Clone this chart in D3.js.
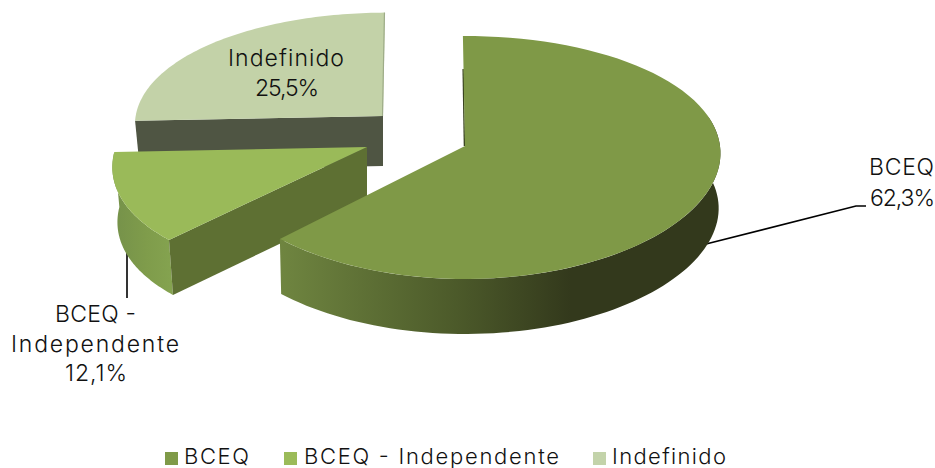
<!DOCTYPE html>
<html><head><meta charset="utf-8">
<script src="https://cdn.jsdelivr.net/npm/d3@7"></script>
<style>html,body{margin:0;background:#fff}svg{display:block}text{font-family:Inter,Lato,"Open Sans",sans-serif;font-weight:300;fill:#111;font-size:23px}text.lg{font-size:22px}</style>
</head><body><svg id="c" width="935" height="468"></svg>
<script>
const categories = ["BCEQ", "BCEQ - Independente", "Indefinido"];
const values = [62.3, 12.1, 25.5];
const valueLabels = ["62,3%", "12,1%", "25,5%"];
const topColors = ["#7f9947", "#9aba59", "#c3d2a8"];
const legendColors = ["#7f9a48", "#9bbb59", "#c3d3aa"];

const svg = d3.select("#c");
const defs = svg.append("defs");
const R = 255, Ry = 120.4, P = 0.0947, ROT = -0.5 * Math.PI / 180;
const geom = [
  {cx:465, cy:146, sx:1, sy:1, px:0.06, skew:0, depth:55, shrink:0.993},
  {cx:367, cy:147, sx:0.985, sy:1, px:0.165, skew:0, depth:55, shrink:0.98},
  {cx:383, cy:116, sx:0.97, sy:0.94, px:0.06, skew:4, depth:50, shrink:0.98}
];
const slices = d3.pie().sort(null).startAngle(ROT).endAngle(ROT + 2 * Math.PI)(values);

function proj(g, a, k) {
  const u = Math.sin(a), v = Math.cos(a);
  return [g.cx + (k * R * g.sx * u) / (1 + g.px * v) + g.skew * v,
          g.cy - (k * Ry * g.sy * v) / (1 + P * v)];
}
const low = (g, p) => [g.cx + (p[0] - g.cx) * g.shrink, p[1] + g.depth];
const line = d3.line();
const rim = (g, a0, a1) => d3.range(0, 81).map(i => proj(g, a0 + (a1 - a0) * i / 80, 1));

function grad(id, x1, x2, stops) {
  const l = defs.append("linearGradient").attr("id", id).attr("gradientUnits", "userSpaceOnUse")
    .attr("x1", x1).attr("x2", x2).attr("y1", 0).attr("y2", 0);
  stops.forEach(s => l.append("stop").attr("offset", s[0]).attr("stop-color", s[1]));
}
grad("wallMain", 280, 720, [[0, "#6f8540"], [0.4, "#4c5a2a"], [0.66, "#33391c"], [1, "#33391c"]]);
grad("wallGreen", 113, 180, [[0, "#75914a"], [0.5, "#7f9c4b"], [1, "#86a551"]]);

function slice(i) {
  const s = slices[i], g = geom[i], apex = [g.cx, g.cy];
  const gr = svg.append("g").attr("class", "slice");
  const r = rim(g, s.startAngle, s.endAngle);
  return {s, g, apex, r, gr};
}
const innerWall = (o, edgePt, fill) => o.gr.append("path")
  .attr("d", line([o.apex, edgePt, low(o.g, edgePt), [o.apex[0], o.apex[1] + o.g.depth]]) + "Z").attr("fill", fill);
const outerWall = (o, a0, a1, fill) => {
  const t = rim(o.g, a0, a1), b = t.map(p => low(o.g, p)).reverse();
  o.gr.append("path").attr("d", line(t.concat(b)) + "Z").attr("fill", fill);
};
const topFace = (o, fill) => o.gr.append("path")
  .attr("d", line([o.apex].concat(o.r)) + "Z").attr("fill", fill);

// leader lines
svg.append("path").attr("d", line([[706, 244], [856, 206], [866, 206]])).attr("fill", "none").attr("stroke", "#000").attr("stroke-width", 1.6);
svg.append("path").attr("d", line([[127, 252], [127, 298]])).attr("fill", "none").attr("stroke", "#000").attr("stroke-width", 1.6);

// Indefinido
const pale = slice(2);
innerWall(pale, pale.r[0], "#4f5543");
topFace(pale, topColors[2]);
const pe = pale.r[80];
pale.gr.append("path").attr("d", line([[pe[0] - 0.5, pe[1]], [pale.apex[0] - 0.5, pale.apex[1]]])).attr("stroke", "#9eac88").attr("stroke-width", 1.2);

// BCEQ - Independente
const green = slice(1);
outerWall(green, green.s.startAngle, green.s.endAngle, "url(#wallGreen)");
innerWall(green, green.r[0], "#5e7033");
topFace(green, topColors[1]);

// BCEQ
const main = slice(0);
const ms = main.r[0];
main.gr.append("path").attr("d", line([[ms[0] + (main.apex[0] - ms[0]) * .3 - .4, ms[1] + (main.apex[1] - ms[1]) * .3], [main.apex[0] - .6, main.apex[1]]])).attr("stroke", "#3a4420").attr("stroke-width", 1.4);
outerWall(main, Math.PI * 0.42, main.s.endAngle, "url(#wallMain)");
topFace(main, topColors[0]);

// labels: [text, x start, x end, baseline]
const labelLines = [
  [categories[2], 228, 344, 66], [valueLabels[2], 255, 319, 96],
  [categories[0], 869, 934, 175], [valueLabels[0], 870, 935, 206],
  ["BCEQ -", 55, 136, 322], ["Independente", 11, 179, 352], [valueLabels[1], 65, 127, 381]
];
svg.selectAll("text.l").data(labelLines).join("text").attr("class", "l")
  .attr("x", d => d[1]).attr("y", d => d[3])
  .attr("textLength", d => d[2] - d[1]).attr("lengthAdjust", "spacing").text(d => d[0]);

// legend
const legendX = [[165, 184, 249], [284, 304, 559], [593, 612, 726]];
const lg = svg.selectAll("g.lg").data(categories).join("g").attr("class", "lg");
lg.append("rect").attr("x", (d, i) => legendX[i][0]).attr("y", 452).attr("width", 13).attr("height", 13)
  .attr("fill", (d, i) => legendColors[i]);
lg.append("text").attr("class", "lg").attr("x", (d, i) => legendX[i][1]).attr("y", 464)
  .attr("textLength", (d, i) => legendX[i][2] - legendX[i][1]).attr("lengthAdjust", "spacing").text(d => d);
</script></body></html>
